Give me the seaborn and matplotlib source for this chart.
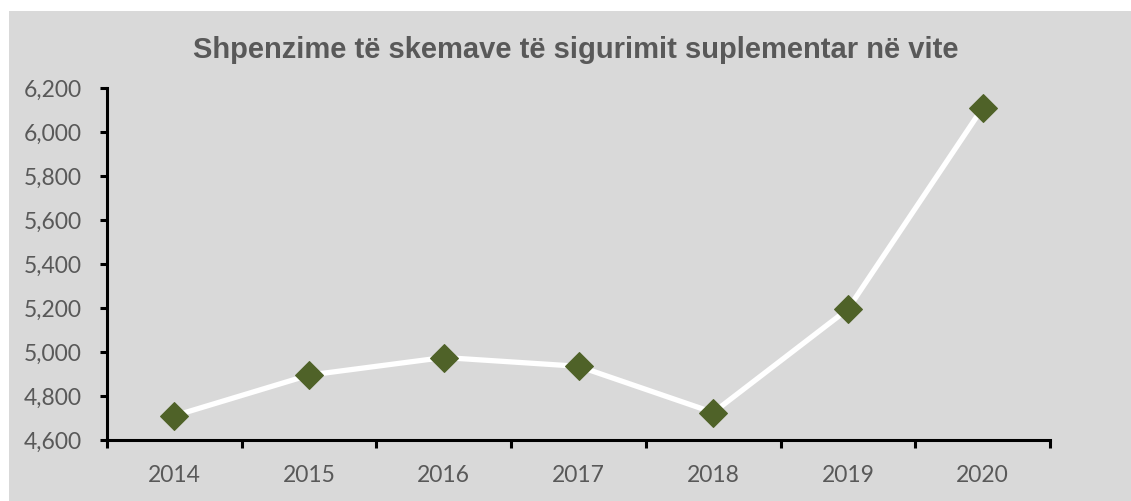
import numpy as np
import pandas as pd
import matplotlib
matplotlib.use("Agg")
import matplotlib.pyplot as plt
from matplotlib.patches import Rectangle
from matplotlib.ticker import FuncFormatter, FixedLocator
import seaborn as sns

# Supplementary insurance scheme expenditures by year
years = ["2014", "2015", "2016", "2017", "2018", "2019", "2020"]
expenditures = [4710, 4895, 4975, 4935, 4725, 5195, 6110]
y_ticks = [4600, 4800, 5000, 5200, 5400, 5600, 5800, 6000, 6200]
title = "Shpenzime të skemave të sigurimit suplementar në vite"

sns.set_theme(style="white")
plt.rcParams["font.family"] = ["Lato", "DejaVu Sans"]

W, H = 1131, 501
fig = plt.figure(figsize=(W / 100, H / 100), dpi=100)
fig.patch.set_facecolor("white")
# grey chart area
fig.patches.append(Rectangle((9 / W, 0), 1 - 9 / W, (H - 11) / H,
                             transform=fig.transFigure, facecolor="#d9d9d9",
                             edgecolor="none", zorder=-10))

ax = fig.add_axes([107 / W, (H - 440) / H, (1050 - 107) / W, (440 - 88) / H])
ax.set_facecolor("none")
ax.set_zorder(5)

df = pd.DataFrame({"year": years, "value": expenditures})
sns.lineplot(data=df, x="year", y="value", ax=ax, color="white",
             linewidth=3.8, marker="D", markersize=14.5,
             markerfacecolor="#4f6228", markeredgecolor="#4f6228", zorder=3)

ax.set_xlim(-0.5, len(years) - 0.5)
ax.set_ylim(y_ticks[0], y_ticks[-1])
ax.set_yticks(y_ticks)
ax.yaxis.set_major_formatter(FuncFormatter(lambda v, p: f"{int(v):,}"))
ax.set_xticks(range(len(years)))
ax.set_xticklabels(years)
ax.xaxis.set_minor_locator(FixedLocator(np.arange(-0.5, len(years), 1.0)))

ax.set_xlabel("")
ax.set_ylabel("")

for side in ["top", "right"]:
    ax.spines[side].set_visible(False)
for side in ["left", "bottom"]:
    ax.spines[side].set_visible(True)
    ax.spines[side].set_color("black")
    ax.spines[side].set_linewidth(2.2)

ax.tick_params(axis="y", which="major", left=True, length=5, width=2.2,
               color="black", labelsize=16.5, labelcolor="#595959", pad=13)
ax.tick_params(axis="x", which="major", bottom=False, length=0,
               labelsize=16.5, labelcolor="#595959", pad=18)
ax.tick_params(axis="x", which="minor", bottom=True, length=6, width=2.2,
               color="black")

fig.text(576 / W, (H - 50) / H, title, ha="center", va="center",
         fontsize=21, fontweight="bold", color="#595959",
         family=["Liberation Sans", "DejaVu Sans"])

fig.savefig("out.png", dpi=100)
